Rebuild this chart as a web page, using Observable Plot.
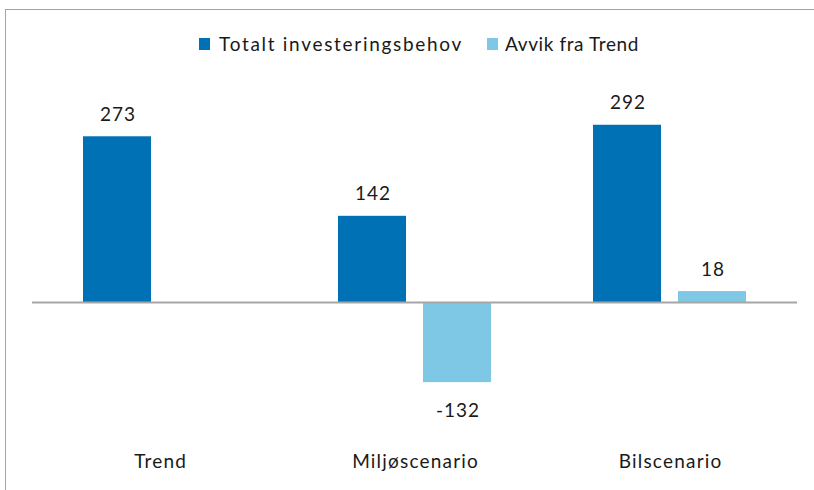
<!DOCTYPE html>
<html><head><meta charset="utf-8">
<script src="https://cdn.jsdelivr.net/npm/d3@7"></script>
<script src="https://cdn.jsdelivr.net/npm/@observablehq/plot@0.6"></script>
<style>
body{margin:0;width:814px;height:490px;overflow:hidden;background:#fff;position:relative;font-family:Lato,"Open Sans",sans-serif;color:#1a1a1a;}
#frame{position:absolute;left:5px;top:9px;width:900px;height:900px;border-left:1.5px solid #a3a3a3;border-top:1.5px solid #a3a3a3;}
#legend{position:absolute;top:32px;left:12px;width:814px;display:flex;justify-content:center;gap:24px;font-size:19px;line-height:24px;letter-spacing:1.7px;}
#legend .item{display:flex;align-items:center;}
#legend .item + .item{letter-spacing:0.6px;}
#legend .sw{width:11px;height:12px;margin-right:9px;display:inline-block;}
#legend .item + .item .sw{margin-right:7px;}
#chart{position:absolute;top:61px;left:0;}
</style></head>
<body>
<div id="frame"></div>
<div id="legend"></div>
<div id="chart"></div>
<script>
const categories = ["Trend", "Miljøscenario", "Bilscenario"];
const series = ["Totalt investeringsbehov", "Avvik fra Trend"];
const totalt = [273, 142, 292];
const avvik = [null, -132, 18];
const colors = ["#0071b5", "#7ec8e6"];

const rows = [];
categories.forEach((c, i) => {
  rows.push({cat: c, series: series[0], value: totalt[i]});
  if (avvik[i] != null) rows.push({cat: c, series: series[1], value: avvik[i]});
});

const legend = document.getElementById("legend");
series.forEach((s, i) => {
  const it = document.createElement("div");
  it.className = "item";
  it.innerHTML = `<span class="sw" style="background:${colors[i]}"></span><span>${s}</span>`;
  legend.appendChild(it);
});

const chart = Plot.plot({
  width: 814,
  height: 430,
  marginLeft: 32,
  marginRight: 17,
  marginTop: 58.9,
  marginBottom: 67.6,
  style: {fontFamily: "Lato, 'Open Sans', sans-serif", fontSize: "19px", color: "#1a1a1a", background: "transparent"},
  fx: {domain: categories, paddingInner: 0, paddingOuter: 0, axis: null, label: null},
  x: {domain: series, paddingInner: 0.2, paddingOuter: 0.6, axis: null},
  y: {domain: [-200, 300], axis: null},
  color: {domain: series, range: colors},
  marks: [
    Plot.barY(rows, {fx: "cat", x: "series", y: "value", fill: "series"}),
    Plot.ruleY([0], {stroke: "#a6a6a6", strokeWidth: 2}),
    Plot.text(rows.filter(d => d.value >= 0), {fx: "cat", x: "series", y: "value", text: d => String(d.value), dy: -22, dx: 0.5, fontSize: 19, fill: "#1a1a1a"}),
    Plot.text(rows.filter(d => d.value < 0), {fx: "cat", x: "series", y: "value", text: d => String(d.value), dy: 28, dx: 0.5, fontSize: 19, fill: "#1a1a1a"}),
    Plot.text(categories, {fx: d => d, text: d => d, frameAnchor: "bottom", dy: 44, dx: 0.6, fontSize: 19, fill: "#1a1a1a"})
  ]
});
document.getElementById("chart").appendChild(chart);
d3.select(chart).selectAll("text").each(function() {
  const t = this.textContent;
  d3.select(this).style("letter-spacing", /^[-0-9]+$/.test(t) ? "1px" : "1.2px");
});
</script>
</body></html>
